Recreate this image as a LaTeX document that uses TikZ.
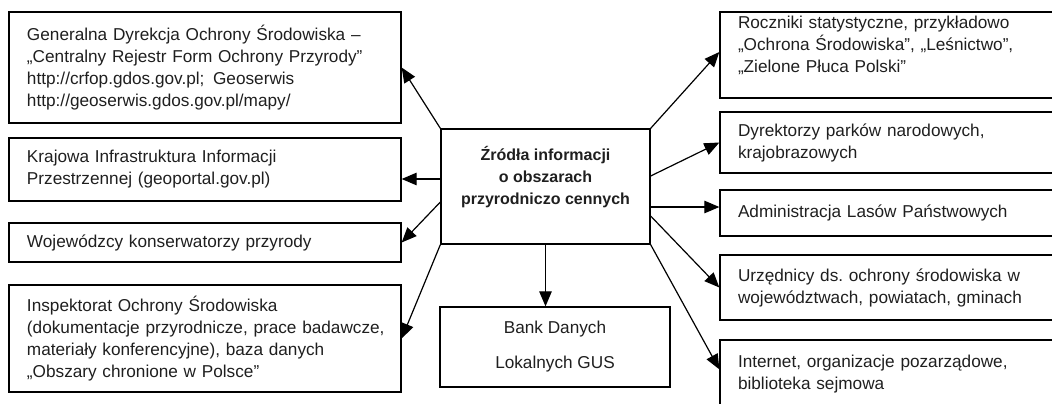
\documentclass[tikz,border=0pt]{standalone}
\usepackage{fontspec}
\setmainfont{Liberation Sans}
\usetikzlibrary{arrows.meta,calc}
\frenchspacing
\begin{document}
\begin{tikzpicture}[x=1bp,y=-1bp,
  box/.style={draw, line width=1.3bp, rectangle, inner ysep=0pt, inner xsep=18bp,
    align=left, font=\fontsize{17.2bp}{22bp}\selectfont, text=black!88},
  lbox/.style={box, minimum width=392bp, text width=356bp},
  rbox/.style={box, minimum width=400bp, text width=364bp},
  arr/.style={line width=1.2bp, -{Triangle[length=15bp,width=12.5bp]}}]
\clip (0,0) rectangle (1052,403);
% left column
\node[lbox, minimum height=111bp] (L1) at (205,67.5)
  {Generalna Dyrekcja Ochrony Środowiska –\\„Centralny Rejestr Form Ochrony Przyrody”\\http://crfop.gdos.gov.pl;\enspace Geoserwis\\http://geoserwis.gdos.gov.pl/mapy/};
\node[lbox, minimum height=63bp] (L2) at (205,169.5)
  {Krajowa Infrastruktura Informacji\\Przestrzennej (geoportal.gov.pl)};
\node[lbox, minimum height=39bp] (L3) at (205,242.5)
  {Wojewódzcy konserwatorzy przyrody};
\node[lbox, minimum height=107bp] (L4) at (205,338.5)
  {Inspektorat Ochrony Środowiska\\\mbox{(dokumentacje przyrodnicze, prace badawcze,}\\materiały konferencyjne), baza danych\\„Obszary chronione w Polsce”};
% centre
\node[box, minimum width=209bp, minimum height=115bp, align=center,
  font=\fontsize{16bp}{22bp}\selectfont\bfseries] (C) at (545.5,186.5)
  {Źródła informacji\\o obszarach\\przyrodniczo cennych\\\mbox{}};
\node[box, minimum width=230bp, minimum height=80bp, align=center,
  font=\fontsize{17.2bp}{35bp}\selectfont] (B) at (555,347)
  {Bank Danych\\Lokalnych GUS};
% right column
\node[rbox, minimum height=86bp] (R1) at (920,55)
  {Roczniki statystyczne, przykładowo\\„Ochrona Środowiska”, „Leśnictwo”,\\„Zielone Płuca Polski”\\\mbox{}};
\node[rbox, minimum height=61bp] (R2) at (920,142.5)
  {Dyrektorzy parków narodowych,\\krajobrazowych};
\node[rbox, minimum height=46bp] (R3) at (920,213)
  {Administracja Lasów Państwowych};
\node[rbox, minimum height=65bp] (R4) at (920,287.5)
  {Urzędnicy ds. ochrony środowiska w\\województwach, powiatach, gminach};
\node[rbox, minimum height=68bp] (R5) at (920,374)
  {Internet, organizacje pozarządowe,\\biblioteka sejmowa};
% connectors
\draw[arr] (C.north west) -- (L1.east);
\draw[arr] ([yshift=7.5bp]C.west) -- ([yshift=7.5bp]C.west -| L2.east);
\draw[arr] ([yshift=-15.5bp]C.west) -- (L3.east);
\draw[arr] (C.south west) -- (L4.east);
\draw[arr] (C.south) -- (C.south |- B.north);
\draw[arr] (C.north east) -- ([yshift=3bp]R1.west);
\draw[arr] ([yshift=10.5bp]C.east) -- (R2.west);
\draw[arr] ([yshift=-20.5bp]C.east) -- ([yshift=-20.5bp]C.east -| R3.west);
\draw[arr] ([yshift=-29.5bp]C.east) -- (R4.west);
\draw[arr] (C.south east) -- ([yshift=-30bp]R5.north west);
\end{tikzpicture}
\end{document}
